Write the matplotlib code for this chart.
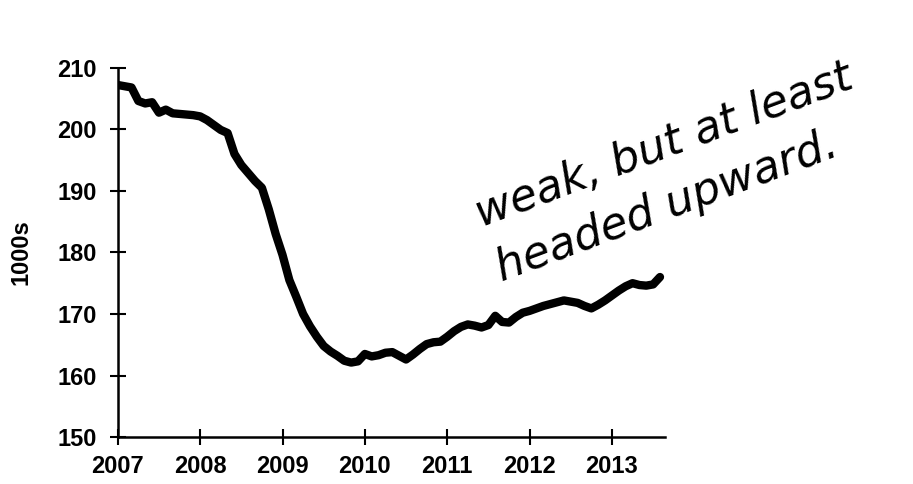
import numpy as np
import matplotlib
matplotlib.use('Agg')
import matplotlib.pyplot as plt

# monthly employment level (1000s), Jan 2007 .. Aug 2013
start_year = 2007
values = [
    207.2, 207.0, 206.8, 204.6, 204.2, 204.4, 202.7, 203.2, 202.6, 202.5, 202.4, 202.3,
    202.1, 201.5, 200.7, 199.9, 199.4, 196.0, 194.2, 192.9, 191.6, 190.5, 187.0, 183.0,
    179.6, 175.5, 172.8, 170.0, 168.0, 166.3, 164.8, 163.9, 163.2, 162.4, 162.1, 162.3,
    163.5, 163.1, 163.3, 163.7, 163.8, 163.2, 162.6, 163.4, 164.3, 165.1, 165.4, 165.5,
    166.3, 167.2, 167.9, 168.3, 168.1, 167.8, 168.2, 169.7, 168.7, 168.6, 169.5, 170.2,
    170.5, 170.9, 171.3, 171.6, 171.9, 172.2, 172.0, 171.8, 171.3, 170.9, 171.5, 172.2,
    173.0, 173.8, 174.5, 175.0, 174.7, 174.6, 174.8, 176.0,
]
year_ticks = [2007, 2008, 2009, 2010, 2011, 2012, 2013]
y_ticks = [150, 160, 170, 180, 190, 200, 210]
y_label = "1000s"
note = "weak, but at least\nheaded upward."

x = start_year + np.arange(len(values)) / 12.0

plt.rcParams['font.family'] = ['Liberation Sans', 'DejaVu Sans']

fig = plt.figure(figsize=(9.13, 4.84), dpi=100)
ax = fig.add_axes([0.129, 0.097, 0.599, 0.763])

ax.plot(x, values, color='black', linewidth=6, solid_capstyle='round', solid_joinstyle='round')

ax.set_xlim(2007, 2013.64)
ax.set_ylim(150, 210)
ax.set_xticks(year_ticks)
ax.set_yticks(y_ticks)
ax.set_xticklabels([str(t) for t in year_ticks], fontsize=17, fontweight='bold')
ax.set_yticklabels([str(t) for t in y_ticks], fontsize=17, fontweight='bold')
ax.tick_params(axis='x', direction='inout', length=12, width=1.5, pad=7)
ax.tick_params(axis='y', direction='inout', length=12, width=1.5, pad=9)
ax.set_ylabel(y_label, fontsize=17, fontweight='bold', labelpad=18)

for side in ['top', 'right']:
    ax.spines[side].set_visible(False)
for side in ['left', 'bottom']:
    ax.spines[side].set_linewidth(1.8)

# handwritten remark
fig.text(0.553, 0.40, note, rotation=20.5, fontsize=32, family=['DejaVu Sans'],
         style='oblique', fontweight='normal', linespacing=1.45, ha='left', va='bottom',
         rotation_mode='anchor')

fig.savefig('out.png', dpi=100)
